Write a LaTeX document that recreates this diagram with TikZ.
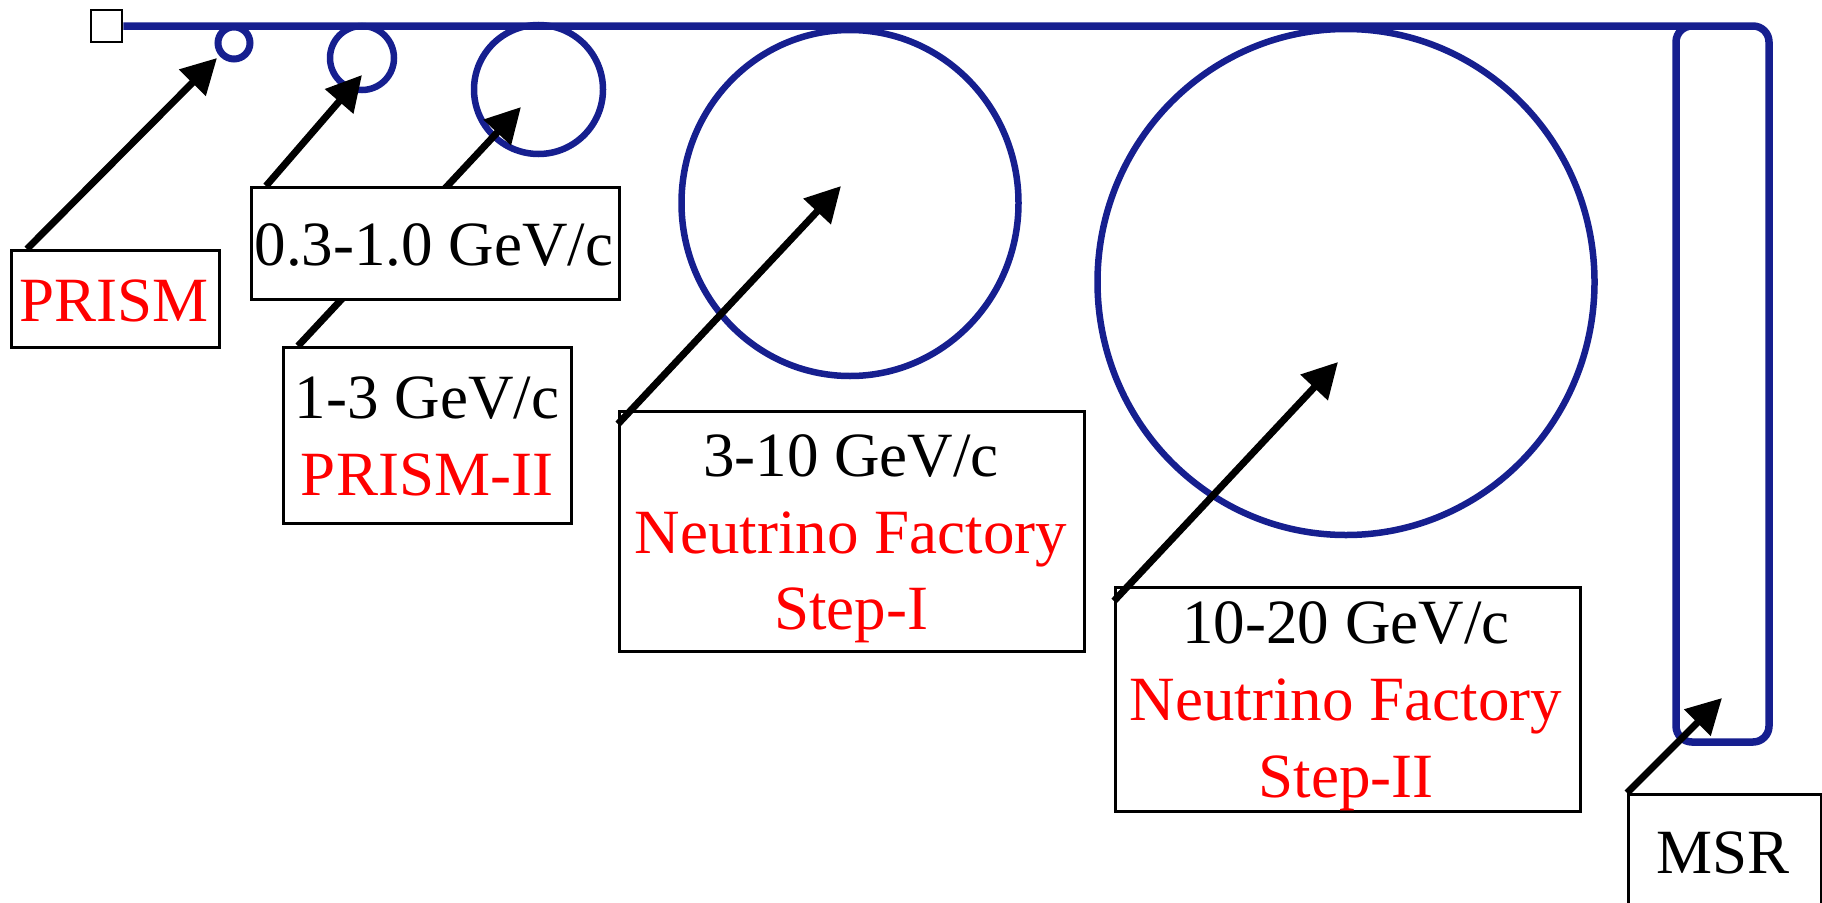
\documentclass[tikz,border=0pt]{standalone}
\usepackage{fontspec}
\setmainfont{Liberation Serif}
\usetikzlibrary{arrows.meta,shapes.geometric}
\definecolor{ringblue}{RGB}{22,31,143}
\definecolor{labelred}{RGB}{255,0,0}
\begin{document}
\begin{tikzpicture}[x=1pt,y=-1pt,
  ring/.style={draw=ringblue, line width=6.5pt, ellipse, inner sep=0pt},
  beam/.style={draw=ringblue, line width=7.5pt, rounded corners=16pt},
  box/.style={draw=black, line width=2.5pt, fill=white, rectangle, inner sep=0pt, anchor=north west},
  lbl/.style={inner sep=0pt, anchor=base, font=\fontsize{63}{77}\selectfont},
  hl/.style={text=labelred},
  arr/.style={draw=black, line width=7pt, -{Triangle[length=35pt,width=36pt]}},
]
\useasboundingbox (0,0) rectangle (1822,902);
\clip (0,0) rectangle (1822,902);

% injection square and beam line with MSR loop
\node[draw=black, line width=2.5pt, fill=white, minimum width=31pt, minimum height=32pt, inner sep=0pt] (sq) at (106.5,26) {};
\draw[beam] (sq.east) -- (1769,26) -- (1769,742) -- (1676,742) -- (1676,26) -- (1715,26);

% rings
\node[ring, line width=7pt, minimum width=32pt, minimum height=32pt] (c1) at (234,43) {};
\node[ring, minimum width=64pt, minimum height=64pt] (c2) at (362,58) {};
\node[ring, minimum width=129pt, minimum height=129pt] (c3) at (538.5,89.5) {};
\node[ring, minimum width=337pt, minimum height=346pt] (c4) at (850,203) {};
\node[ring, minimum width=497pt, minimum height=506pt] (c5) at (1346,282) {};

% arrow tips
\coordinate (tip1) at (217,58);
\coordinate (tip2) at (362,75);
\coordinate (tip3) at (521,107);
\coordinate (tip4) at (841,186);
\coordinate (tip5) at (1338,362);
\coordinate (tip6) at (1722,698);

% PRISM
\node[box, minimum width=208pt, minimum height=97pt] (bprism) at (10,249) {};
\node[lbl, hl] (tprism) at (114,321) {PRISM};
\draw[arr] ([xshift=17pt]bprism.north west) -- (tip1);

% 1-3 GeV/c  (arrow passes behind the 0.3-1.0 box)
\node[box, minimum width=288pt, minimum height=176pt] (b13) at (282,346) {};
\node[lbl] (t13a) at (427,418) {1-3 GeV/c};
\node[lbl, hl] (t13b) at (427,495) {PRISM-II};
\draw[arr] ([xshift=16pt]b13.north west) -- (tip3);

% 0.3-1.0 GeV/c
\node[box, minimum width=368pt, minimum height=112pt] (b03) at (250,186) {};
\node[lbl] (t03) at (434,265) {0.3-1.0 GeV/c};
\draw[arr] ([xshift=16pt]b03.north west) -- (tip2);

% 3-10 GeV/c
\node[box, minimum width=465pt, minimum height=240pt] (b310) at (618,410) {};
\node[lbl] (t310a) at (851,476) {3-10 GeV/c};
\node[lbl, hl] (t310b) at (851,553) {Neutrino Factory};
\node[lbl, hl] (t310c) at (851,629) {Step-I};
\draw[arr] ([yshift=-14pt]b310.north west) -- (tip4);

% 10-20 GeV/c
\node[box, minimum width=465pt, minimum height=224pt] (b1020) at (1114,586) {};
\node[lbl] (t1020a) at (1346,643) {10-20 GeV/c};
\node[lbl, hl] (t1020b) at (1346,720) {Neutrino Factory};
\node[lbl, hl] (t1020c) at (1346,797) {Step-II};
\draw[arr] ([yshift=-15pt]b1020.north west) -- (tip5);

% MSR
\node[box, minimum width=193pt, minimum height=140pt] (bmsr) at (1627,793) {};
\node[lbl] (tmsr) at (1723,873) {MSR};
\draw[arr] (bmsr.north west) -- (tip6);
\end{tikzpicture}
\end{document}
